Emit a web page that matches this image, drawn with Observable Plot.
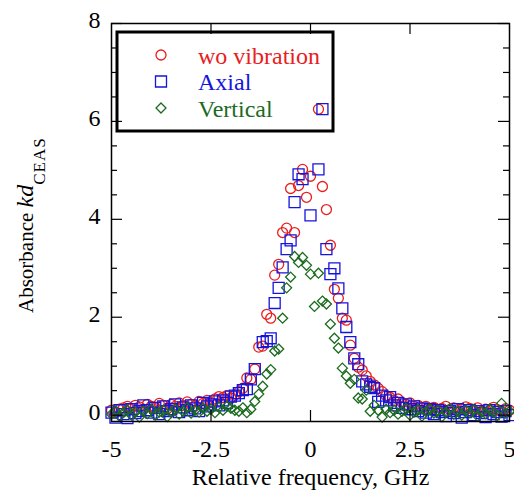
<!DOCTYPE html>
<html><head><meta charset="utf-8">
<script src="https://cdn.jsdelivr.net/npm/d3@7"></script>
<script src="https://cdn.jsdelivr.net/npm/@observablehq/plot@0.6"></script>
<style>
html,body{margin:0;padding:0;background:#fff;}
#chart{position:relative;width:514px;height:491px;}
</style></head><body><div id="chart"></div>
<script>
// ---- data ----
const xGrid = [
 -5.0,-4.9,-4.8,-4.7,-4.6,-4.5,-4.4,-4.3,-4.2,-4.1,
 -4.0,-3.9,-3.8,-3.7,-3.6,-3.5,-3.4,-3.3,-3.2,-3.1,
 -3.0,-2.9,-2.8,-2.7,-2.6,-2.5,-2.4,-2.3,-2.2,-2.1,
 -2.0,-1.9,-1.8,-1.7,-1.6,-1.5,-1.4,-1.3,-1.2,-1.1,
 -1.0,-0.9,-0.8,-0.7,-0.6,-0.5,-0.4,-0.3,-0.2,-0.1,
 0.0,0.1,0.2,0.3,0.4,0.5,0.6,0.7,0.8,0.9,
 1.0,1.1,1.2,1.3,1.4,1.5,1.6,1.7,1.8,1.9,
 2.0,2.1,2.2,2.3,2.4,2.5,2.6,2.7,2.8,2.9,
 3.0,3.1,3.2,3.3,3.4,3.5,3.6,3.7,3.8,3.9,
 4.0,4.1,4.2,4.3,4.4,4.5,4.6,4.7,4.8,4.9,
 5.0];
const woVibration = [
 0.10,0.05,0.12,0.15,0.18,0.14,0.20,0.17,0.12,0.22,
 0.18,0.15,0.24,0.20,0.13,0.22,0.18,0.25,0.20,0.27,
 0.22,0.19,0.28,0.24,0.30,0.26,0.33,0.38,0.36,0.40,
 0.35,0.41,0.48,0.55,0.76,0.73,0.94,1.39,1.41,2.06,
 1.98,2.86,3.08,3.73,3.82,4.63,3.73,4.69,5.02,4.45,
 4.88,null,6.25,4.67,4.20,3.47,2.57,2.39,1.98,1.94,
 1.43,1.16,0.98,0.92,0.80,0.69,0.62,0.55,0.48,0.40,
 0.36,0.30,0.33,0.26,0.22,0.25,0.18,0.20,0.15,0.18,
 0.12,0.16,0.10,0.14,0.18,0.11,0.15,0.09,0.13,0.17,
 0.14,0.10,0.15,0.08,0.12,0.10,0.16,0.11,0.07,0.13,
 0.10];
const axial = [
 0.05,-0.05,0.10,0.02,-0.06,0.12,0.04,0.08,0.20,0.10,
 0.05,0.15,0.02,0.18,0.08,0.12,0.22,0.06,0.16,0.10,
 0.20,0.14,0.08,0.25,0.18,0.22,0.28,0.20,0.30,0.25,
 0.38,0.40,0.45,0.51,0.53,0.73,0.94,null,1.49,1.51,
 1.57,2.29,2.60,3.02,3.39,3.57,4.35,4.92,4.82,null,
 4.08,null,5.02,6.25,3.39,2.88,3.00,2.59,2.18,1.80,
 1.49,1.16,1.04,0.69,0.63,0.58,0.55,0.27,0.40,0.30,
 0.37,0.20,0.25,0.15,0.22,0.12,0.18,0.08,0.14,0.05,
 0.12,0.02,0.10,0.06,-0.02,0.08,0.04,0.12,-0.05,0.06,
 0.10,0.00,0.08,0.04,-0.04,0.10,0.02,0.06,-0.03,0.08,
 0.00];
const vertical = [
 0.02,0.08,-0.02,0.05,0.10,0.00,0.06,-0.04,0.08,0.03,
 0.12,0.00,0.06,0.10,-0.03,0.05,0.12,0.02,0.08,0.15,
 0.04,0.10,0.06,0.14,0.08,0.12,0.05,0.16,0.10,0.18,
 0.14,0.10,0.08,0.15,0.05,0.12,0.28,0.43,0.59,0.84,
 0.93,1.31,1.35,1.98,2.60,2.82,3.24,3.12,3.22,3.06,
 2.88,2.22,2.90,2.33,2.27,1.86,1.57,1.37,0.96,0.80,
 0.65,0.73,0.35,0.33,0.51,0.08,0.20,0.10,-0.04,0.12,
 0.05,0.10,0.02,0.08,0.14,0.00,0.06,0.11,-0.02,0.07,
 0.12,0.04,0.09,-0.03,0.06,0.13,0.02,0.08,0.00,0.10,
 0.05,0.11,-0.02,0.07,0.03,0.12,0.06,0.00,0.24,0.04,
 0.08];
const seriesNames = ["wo vibration", "Axial", "Vertical"];
const seriesColors = ["#e8201e", "#1414dc", "#1b6b1f"];
const xTickValues = [-5, -2.5, 0, 2.5, 5];
const xInnerTicks = [-2.5, 0, 2.5];
const yTickValues = [0, 2, 4, 6, 8];
const yMinorTicks = [0.5,1,1.5,2.5,3,3.5,4.5,5,5.5,6.5,7,7.5];
const xTitle = "Relative frequency, GHz";

// ---- layout ----
const W = 514, H = 491, mL = 111, mR = 5, mT = 23, mB = 70;
const plotW = W - mL - mR, plotH = H - mT - mB;
const FONT = "'Liberation Serif', 'Times New Roman', serif";
const toPts = ys => xGrid.map((x, i) => ({x, y: ys[i]})).filter(d => d.y !== null);
const symR = {circle: 5, square: 6.2, diamond2: 4.5};
const symbols = ["circle", "square", "diamond2"];
const series = [woVibration, axial, vertical];

const plot = Plot.plot({
  width: W, height: H,
  marginLeft: mL, marginRight: mR, marginTop: mT, marginBottom: mB,
  style: {fontFamily: FONT, fontSize: "24px", color: "black", background: "white"},
  x: {domain: [-5, 5], axis: null},
  y: {domain: [-0.13, 8], axis: null},
  marks: [
    ...series.map((ys, k) => Plot.dot(toPts(ys), {
      x: "x", y: "y", symbol: symbols[k], r: symR[symbols[k]],
      stroke: seriesColors[k], strokeWidth: 1.3, fill: "none"
    })),
    // inward ticks
    Plot.ruleY(yMinorTicks, {insetRight: plotW - 6, stroke: "black", strokeWidth: 1.2}),
    Plot.ruleY(yMinorTicks, {insetLeft: plotW - 6, stroke: "black", strokeWidth: 1.2}),
    Plot.ruleY(yTickValues, {insetRight: plotW - 11, stroke: "black", strokeWidth: 1.2}),
    Plot.ruleY(yTickValues, {insetLeft: plotW - 11, stroke: "black", strokeWidth: 1.2}),
    Plot.ruleX(xInnerTicks, {insetTop: plotH - 11, stroke: "black", strokeWidth: 1.2}),
    Plot.ruleX(xInnerTicks, {insetBottom: plotH - 11, stroke: "black", strokeWidth: 1.2}),
    Plot.frame({stroke: "black", strokeWidth: 1.5}),
    Plot.axisX(xTickValues, {tickSize: 0, tickPadding: 18, tickFormat: d => String(d), fontSize: 24, label: null}),
    Plot.axisY(yTickValues, {tickSize: 0, tickPadding: 11, dy: -3, tickFormat: d => String(d), fontSize: 24, label: null}),
    Plot.text([xTitle], {frameAnchor: "bottom", dy: 63, text: d => d, fontSize: 24, fill: "black"})
  ]
});
document.getElementById("chart").appendChild(plot);

// ---- y-axis title with italic and subscript ----
const svg = d3.select(plot);
const yl = svg.append("text")
  .attr("transform", "translate(33,313) rotate(-90)")
  .attr("text-anchor", "start")
  .attr("font-family", FONT).attr("font-size", 21).attr("fill", "black");
yl.append("tspan").text("Absorbance ");
yl.append("tspan").attr("font-style", "italic").attr("font-size", 24).text("kd");
yl.append("tspan").attr("font-size", 17).attr("dy", 12).attr("letter-spacing", 1).text("CEAS");

// ---- legend box ----
const lg = svg.append("g");
lg.append("rect").attr("x", 117).attr("y", 32).attr("width", 216).attr("height", 99)
  .attr("fill", "none").attr("stroke", "black").attr("stroke-width", 3);
const d3sym = {circle: d3.symbolCircle, square: d3.symbolSquare, diamond2: d3.symbolDiamond2};
seriesNames.forEach((name, k) => {
  const cy = 55 + k * 26.5;
  const r = symR[symbols[k]];
  lg.append("path")
    .attr("d", d3.symbol(d3sym[symbols[k]], Math.PI * r * r)())
    .attr("transform", `translate(161,${cy})`)
    .attr("fill", "none").attr("stroke", seriesColors[k]).attr("stroke-width", 1.3);
  lg.append("text").attr("x", 198).attr("y", cy + 8.5)
    .attr("text-anchor", "start")
    .attr("font-family", FONT).attr("font-size", 24).attr("fill", seriesColors[k])
    .text(name);
});
</script></body></html>
